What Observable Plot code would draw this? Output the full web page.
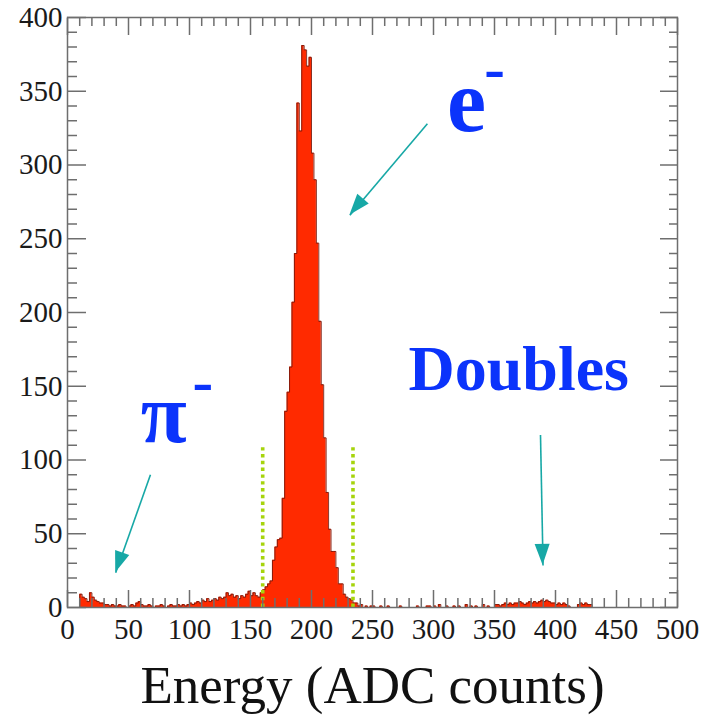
<!DOCTYPE html>
<html>
<head>
<meta charset="utf-8">
<script src="https://cdn.jsdelivr.net/npm/d3@7"></script>
<script src="https://cdn.jsdelivr.net/npm/@observablehq/plot@0.6"></script>
<style>
  html, body { margin: 0; padding: 0; background: #ffffff; }
  #chart { width: 702px; height: 722px; }
</style>
</head>
<body>
<div id="chart"></div>
<script>
// ---- Data ----
const binWidth = 2;            // ADC counts per bin, histogram from 0 to 500
const counts = [
  // 0-20
  0, 0, 0, 0, 0, 9, 7, 6, 4, 10,
  // 20-40
  7, 5, 4, 3, 3, 2, 2, 1, 2, 1,
  // 40-60
  1, 2, 1, 1, 0, 1, 2, 1, 3, 4,
  // 60-80
  2, 1, 1, 2, 1, 0, 1, 1, 2, 1,
  // 80-100
  0, 1, 2, 1, 1, 2, 1, 2, 1, 2,
  // 100-120
  3, 2, 3, 4, 3, 5, 4, 6, 4, 5,
  // 120-140
  6, 5, 7, 6, 7, 10, 8, 9, 7, 8,
  // 140-160
  6, 8, 7, 9, 11, 8, 10, 8, 7, 10,
  // 160-180
  12, 14, 16, 18, 32, 41, 46, 47, 74, 133,
  // 180-200
  146, 163, 207, 240, 342, 323, 381, 378, 367, 373,
  // 200-220
  308, 290, 247, 194, 151, 115, 78, 53, 38, 38,
  // 220-240
  27, 16, 16, 9, 7, 6, 5, 3, 3, 1,
  // 240-260
  2, 0, 1, 0, 1, 1, 0, 0, 1, 0,
  // 260-280
  0, 1, 0, 0, 0, 0, 1, 0, 0, 0,
  // 280-300
  0, 0, 0, 1, 0, 0, 0, 1, 1, 0,
  // 300-320
  1, 0, 2, 0, 0, 1, 0, 0, 1, 0,
  // 320-340
  1, 0, 0, 2, 0, 1, 0, 1, 0, 0,
  // 340-360
  2, 0, 1, 0, 0, 2, 2, 1, 2, 3,
  // 360-380
  2, 3, 2, 3, 3, 4, 3, 2, 3, 4,
  // 380-400
  3, 4, 3, 4, 5, 4, 5, 4, 3, 3,
  // 400-420
  2, 3, 2, 3, 2, 1, 0, 0, 0, 2,
  // 420-440
  3, 2, 3, 2, 2, 0, 0, 0, 0, 0,
  // 440-460
  0, 0, 0, 0, 0, 0, 0, 0, 0, 0,
  // 460-480
  0, 0, 0, 0, 0, 0, 0, 0, 0, 0,
  // 480-500
  0, 0, 0, 0, 0, 0, 0, 0, 0, 0
];
const cutLines = [160, 234];       // selection window (ADC counts)
const cutHeight = 109;             // height of the dotted cut lines (counts)
const xMajorTicks = d3.range(0, 501, 50);
const xMinorTicks = d3.range(0, 501, 10).filter(v => v % 50 !== 0);
const yMajorTicks = d3.range(0, 401, 50);
const yMinorTicks = d3.range(0, 401, 10).filter(v => v % 50 !== 0);
const xTitle = "Energy (ADC counts)";

// annotations in data units
const labelE       = {text: "e", x: 311, y: 323};
const labelEMinus  = {text: "-", x: 350, y: 365};
const labelPi      = {text: "π", x: 60, y: 112};
const labelPiMinus = {text: "-", x: 111, y: 153};
const labelDbl     = {text: "Doubles", x: 279.5, y: 147.5};
const arrows = [
  {x1: 295, y1: 328, x2: 231.5, y2: 266},   // e-
  {x1: 68,  y1: 90,  x2: 39.5,  y2: 23.5},  // pi-
  {x1: 387.7, y1: 117, x2: 389.8, y2: 28.5} // doubles
];

// ---- Build marks ----
const bins = counts.map((c, i) => ({x1: i * binWidth, x2: (i + 1) * binWidth, y: c}));
const outline = bins.flatMap(b => [{x: b.x1, y: b.y}, {x: b.x2, y: b.y}]);

const serif = "Liberation Serif";
const red = "#ff2a00";
const teal = "#17a8a6";
const blue = "#0b33fb";
const axisGray = "#6e6e6e";

const axisCommon = {stroke: axisGray, strokeWidth: 1.5, fill: "#1a1a1a", fontSize: 29, label: null};

const plot = Plot.plot({
  width: 702,
  height: 722,
  marginLeft: 67,
  marginRight: 25,
  marginTop: 17,
  marginBottom: 115,
  style: {background: "#ffffff", overflow: "visible"},
  x: {domain: [0, 500]},
  y: {domain: [0, 400]},
  marks: [
    Plot.areaY(outline, {x: "x", y1: 0, y2: "y", fill: red}),
    Plot.line(outline, {x: "x", y: "y", stroke: "#7a1a0c", strokeWidth: 0.9}),
    Plot.ruleX(cutLines, {y1: 0, y2: cutHeight, stroke: "#a6d40c", strokeWidth: 3.6, strokeDasharray: "3.4,3.4"}),
    // left axis
    Plot.axisY({...axisCommon, anchor: "left", ticks: yMajorTicks, tickSize: -19, tickPadding: 24, tickFormat: d => String(d)}),
    Plot.axisY({...axisCommon, anchor: "left", ticks: yMinorTicks, tickSize: -10, tickFormat: () => ""}),
    // right axis
    Plot.axisY({...axisCommon, anchor: "right", ticks: yMajorTicks, tickSize: -18, tickFormat: () => ""}),
    Plot.axisY({...axisCommon, anchor: "right", ticks: yMinorTicks, tickSize: -9, tickFormat: () => ""}),
    // bottom axis
    Plot.axisX({...axisCommon, anchor: "bottom", ticks: xMajorTicks, tickSize: -17, tickPadding: 28, tickFormat: d => String(d)}),
    Plot.axisX({...axisCommon, anchor: "bottom", ticks: xMinorTicks, tickSize: -9, tickFormat: () => ""}),
    // top axis
    Plot.axisX({...axisCommon, anchor: "top", ticks: xMajorTicks, tickSize: -17, tickFormat: () => ""}),
    Plot.axisX({...axisCommon, anchor: "top", ticks: xMinorTicks, tickSize: -8, tickFormat: () => ""}),
    Plot.frame({stroke: axisGray, strokeWidth: 1.5}),
    // annotation arrows (shafts)
    Plot.link(arrows, {x1: "x1", y1: "y1", x2: "x2", y2: "y2", stroke: teal, strokeWidth: 1.6}),
    // annotation labels
    Plot.text([labelE], {x: "x", y: "y", text: "text", fill: blue, fontSize: 88, fontWeight: "bold", textAnchor: "start", lineAnchor: "bottom"}),
    Plot.text([labelEMinus], {x: "x", y: "y", text: "text", fill: blue, fontSize: 62, fontWeight: "bold", textAnchor: "middle", lineAnchor: "middle"}),
    Plot.text([labelPi], {x: "x", y: "y", text: "text", fill: blue, fontSize: 84, fontWeight: "bold", textAnchor: "start", lineAnchor: "bottom"}),
    Plot.text([labelPiMinus], {x: "x", y: "y", text: "text", fill: blue, fontSize: 62, fontWeight: "bold", textAnchor: "middle", lineAnchor: "middle"}),
    Plot.text([labelDbl], {x: "x", y: "y", text: "text", fill: blue, fontSize: 64, fontWeight: "bold", textAnchor: "start", lineAnchor: "bottom"}),
    // x axis title
    Plot.text([xTitle], {frameAnchor: "bottom", dy: 95, fontSize: 53, fill: "#111", lineAnchor: "bottom", textAnchor: "middle"})
  ]
});
plot.setAttribute("font-family", serif);
d3.select(plot).selectAll("text, g").attr("font-family", serif);

// filled arrow heads, positioned through the plot's own scales
const sx = plot.scale("x"), sy = plot.scale("y");
const g = d3.select(plot).append("g").attr("fill", teal);
for (const a of arrows) {
  const x1 = sx.apply(a.x1), y1 = sy.apply(a.y1), x2 = sx.apply(a.x2), y2 = sy.apply(a.y2);
  const dx = x2 - x1, dy = y2 - y1, L = Math.hypot(dx, dy), ux = dx / L, uy = dy / L;
  const hl = 21, hw = 7.5;
  const bx = x2 - ux * hl, by = y2 - uy * hl;
  const pts = [[x2, y2], [bx - uy * hw, by + ux * hw], [bx + uy * hw, by - ux * hw]];
  g.append("polygon").attr("points", pts.map(p => p.join(",")).join(" "));
}

document.getElementById("chart").appendChild(plot);
</script>
</body>
</html>
